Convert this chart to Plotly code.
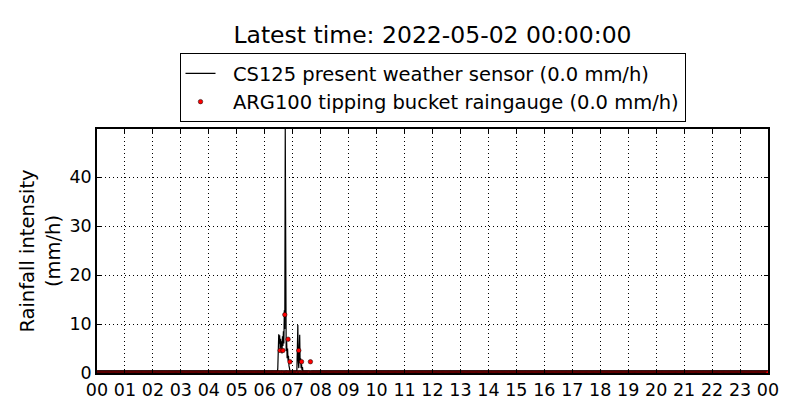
import pandas as pd
import plotly.graph_objects as go

day_start = '2022-05-01 00:00'
day_end = '2022-05-02 00:00'
latest_time = '2022-05-02 00:00:00'

# CS125 one-minute rain intensity (mm/h), zero outside of these blocks
cs125_burst1_start = '2022-05-01 06:27'
cs125_burst1 = [0.0, 1.0, 5.0, 7.9, 6.0, 7.7, 4.5, 7.0, 5.2, 6.5, 4.0, 7.5, 5.5, 8.5,
                6.0, 12.8, 9.0, 49.8, 9.5, 4.5, 6.5, 3.0, 5.0, 2.5, 3.5, 1.5, 0.8, 0.2, 0.0]
cs125_burst2_start = '2022-05-01 07:08'
cs125_burst2 = [0.0, 0.6, 3.5, 9.8, 2.5, 1.0, 4.5, 7.8, 2.0, 3.0, 1.0, 1.8, 0.6, 1.2, 0.3, 0.0]
cs125_blip_times = ['2022-05-01 04:42', '2022-05-01 08:01', '2022-05-01 08:16']
cs125_blip_rain = [0.2, 0.4, 0.3]

# ARG100 tipping bucket, one-minute values (mm/h), zero at every other minute
arg_times = ['2022-05-01 06:33', '2022-05-01 06:39', '2022-05-01 06:43', '2022-05-01 06:50',
             '2022-05-01 06:54', '2022-05-01 07:13', '2022-05-01 07:19', '2022-05-01 07:38']
arg_rain = [4.6, 4.6, 11.9, 6.9, 2.3, 4.6, 2.3, 2.3]

minutes = pd.date_range(day_start, day_end, freq='1min')

cs125 = pd.Series(0.0, index=minutes)
for start, block in [(cs125_burst1_start, cs125_burst1), (cs125_burst2_start, cs125_burst2)]:
    idx = pd.date_range(start, periods=len(block), freq='1min')
    cs125.loc[idx] = block
cs125.loc[pd.to_datetime(cs125_blip_times)] = cs125_blip_rain

arg = pd.Series(0.0, index=minutes)
arg.loc[pd.to_datetime(arg_times)] = arg_rain

font = 'DejaVu Sans'
grid_dash = '1px,3px'
pad = '\u00a0\u00a0'  # a bit more room between legend symbol and text

fig = go.Figure()
fig.add_trace(go.Scatter(x=cs125.index, y=cs125.values, mode='lines',
                         line=dict(color='black', width=1.2),
                         name=f'{pad}CS125 present weather sensor ({cs125.iloc[-1]:.1f} mm/h)'))
fig.add_trace(go.Scatter(x=arg.index, y=arg.values, mode='markers',
                         marker=dict(color='red', size=4.5, line=dict(color='black', width=0.5)),
                         name=f'{pad}ARG100 tipping bucket raingauge ({arg.iloc[-1]:.1f} mm/h)'))

# the page body adds 8px, so margins are offset to keep the plot box where it should be
fig.update_layout(
    width=800, height=420,
    margin=dict(l=89, r=40, t=121, b=55),
    paper_bgcolor='white', plot_bgcolor='white',
    font=dict(family=font, size=18, color='black'),
    title=dict(text=f'Latest time: {latest_time}', x=0.5, xref='paper', xanchor='center',
               y=0.936, yanchor='middle', font=dict(size=23.5)),
    legend=dict(x=0.5, xanchor='center', y=1.311, yanchor='top',
                bordercolor='black', borderwidth=1, bgcolor='white',
                font=dict(size=19.5), tracegroupgap=0),
    showlegend=True,
)

fig.update_xaxes(range=[day_start, day_end], dtick=3600000, tickformat='%H',
                 tick0=day_start,
                 showline=True, linecolor='black', linewidth=1.5, mirror='ticks',
                 ticks='inside', ticklen=4, tickcolor='black',
                 showgrid=True, gridcolor='black', griddash=grid_dash, gridwidth=1,
                 tickfont=dict(size=17.5))
fig.update_yaxes(range=[0, 49.8], tickvals=[0, 10, 20, 30, 40],
                 showline=True, linecolor='black', linewidth=1.5, mirror='ticks',
                 ticks='inside', ticklen=4, tickcolor='black',
                 showgrid=True, gridcolor='black', griddash=grid_dash, gridwidth=1,
                 zeroline=False, tickfont=dict(size=17.5),
                 title=dict(text='Rainfall intensity<br>(mm/h)', font=dict(size=19.5), standoff=4))

fig.write_html('out.html')
